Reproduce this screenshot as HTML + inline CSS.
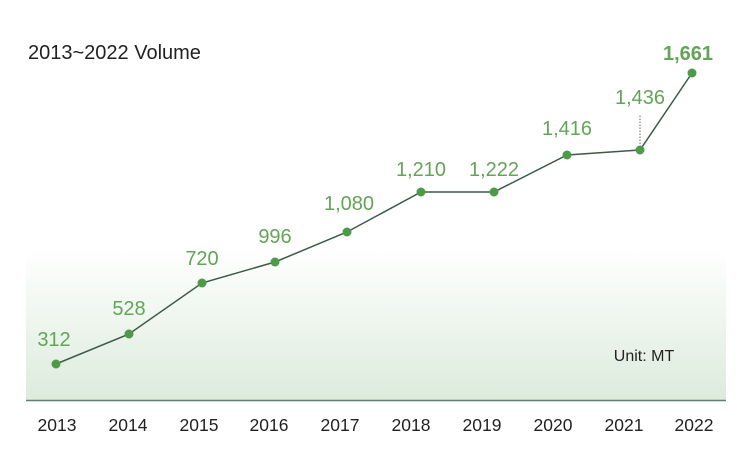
<!DOCTYPE html>
<html><head><meta charset="utf-8"><style>
body{margin:0;background:#fff;}
svg{display:block;font-family:"Liberation Sans",sans-serif;}
</style></head><body>
<svg width="748" height="452" viewBox="0 0 748 452">
<defs><linearGradient id="g" x1="0" y1="0" x2="0" y2="1">
<stop offset="0" stop-color="#ffffff"/><stop offset="1" stop-color="#dcebdc"/></linearGradient></defs>
<rect x="26" y="248" width="700" height="152" fill="url(#g)"/>
<line x1="26" y1="400.5" x2="726" y2="400.5" stroke="#5f7f70" stroke-width="1.5"/>
<text x="28" y="59" font-size="20" fill="#222">2013~2022 Volume</text>
<line x1="640" y1="150" x2="640" y2="115" stroke="#666" stroke-width="1" stroke-dasharray="1.5,1.5"/>
<polyline fill="none" stroke="#3d5a48" stroke-width="1.5" points="56,364 129,334 202,283 275,262 347,232 421,192 494,192 567,155 640,150 692,73"/>
<g fill="#4e9a48">
<circle cx="56" cy="364" r="4.5"/><circle cx="129" cy="334" r="4.5"/><circle cx="202" cy="283" r="4.5"/><circle cx="275" cy="262" r="4.5"/><circle cx="347" cy="232" r="4.5"/><circle cx="421" cy="192" r="4.5"/><circle cx="494" cy="192" r="4.5"/><circle cx="567" cy="155" r="4.5"/><circle cx="640" cy="150" r="4.5"/><circle cx="692" cy="73" r="4.5"/>
</g>
<g fill="#62a556" font-size="20" text-anchor="middle">
<text x="54" y="346">312</text><text x="129" y="315">528</text><text x="202" y="265">720</text><text x="275" y="243">996</text><text x="349" y="210">1,080</text><text x="421" y="176">1,210</text><text x="494" y="176">1,222</text><text x="567" y="135">1,416</text><text x="640" y="104">1,436</text>
<text x="688" y="60" font-weight="bold">1,661</text>
</g>
<text x="644" y="361" font-size="16" fill="#222" text-anchor="middle">Unit: MT</text>
<g font-size="17.5" fill="#222" text-anchor="middle">
<text x="57" y="431">2013</text><text x="128" y="431">2014</text><text x="199" y="431">2015</text><text x="269" y="431">2016</text><text x="340" y="431">2017</text><text x="411" y="431">2018</text><text x="482" y="431">2019</text><text x="553" y="431">2020</text><text x="624" y="431">2021</text><text x="694" y="431">2022</text>
</g>
</svg>
</body></html>
